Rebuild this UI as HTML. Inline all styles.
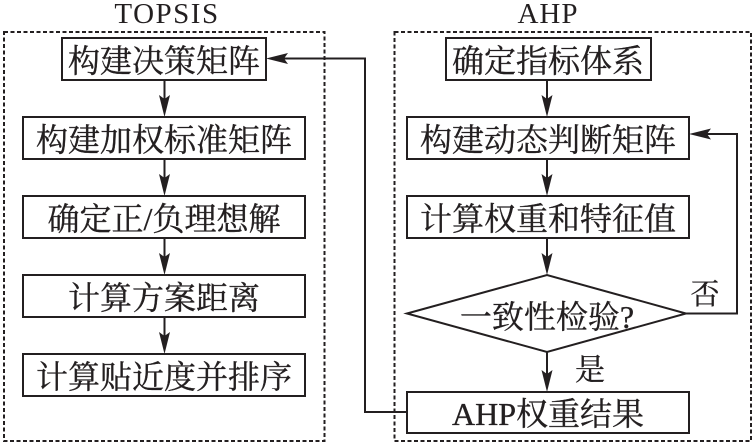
<!DOCTYPE html>
<html>
<head>
<meta charset="utf-8">
<style>
  html, body { margin:0; padding:0; background:#fff; }
  svg { display:block; }
  text { font-family: "Liberation Serif", "Noto Serif CJK SC", serif; fill:#231f20; }
  .lbl text { stroke:#231f20; stroke-width:0.35; }
</style>
</head>
<body>
<svg width="755" height="446" viewBox="0 0 755 446" xmlns="http://www.w3.org/2000/svg">
  <!-- titles -->
  <text x="167" y="23" font-size="29" text-anchor="middle" letter-spacing="1.5">TOPSIS</text>
  <text x="548" y="23" font-size="29" text-anchor="middle" letter-spacing="1">AHP</text>

  <!-- dashed containers -->
  <rect x="4" y="32" width="320.5" height="409" fill="none" stroke="#231f20" stroke-width="2" stroke-dasharray="4 2.5"/>
  <rect x="394.5" y="32" width="356.5" height="409" fill="none" stroke="#231f20" stroke-width="2" stroke-dasharray="4 2.5"/>

  <g fill="#fff" stroke="#231f20" stroke-width="2">
    <!-- TOPSIS boxes -->
    <rect x="62" y="38" width="204" height="42"/>
    <rect x="23" y="117" width="282" height="42"/>
    <rect x="23" y="196" width="282" height="42"/>
    <rect x="23" y="275" width="282" height="42"/>
    <rect x="23" y="354" width="282" height="42"/>
    <!-- AHP boxes -->
    <rect x="446" y="38" width="205" height="42"/>
    <rect x="407" y="117" width="282" height="42"/>
    <rect x="407" y="196" width="282" height="42"/>
    <polygon points="407,313.5 547,275 686,313.5 547,352"/>
    <rect x="407" y="392" width="282" height="41"/>
  </g>

  <!-- connector lines -->
  <g fill="none" stroke="#231f20" stroke-width="2">
    <line x1="164.5" y1="80" x2="164.5" y2="110"/>
    <line x1="164.5" y1="159" x2="164.5" y2="189"/>
    <line x1="164.5" y1="238" x2="164.5" y2="268"/>
    <line x1="164.5" y1="317" x2="164.5" y2="347"/>
    <line x1="547" y1="80" x2="547" y2="110"/>
    <line x1="547" y1="159" x2="547" y2="189"/>
    <line x1="547" y1="238" x2="547" y2="268"/>
    <line x1="547" y1="352" x2="547" y2="385"/>
    <!-- 否 loop -->
    <polyline points="686,313.5 737,313.5 737,134 696,134"/>
    <!-- result back to TOPSIS -->
    <polyline points="407,412 365,412 365,58.5 273,58.5"/>
  </g>

  <!-- arrowheads -->
  <g fill="#231f20">
    <path d="M164.5,117 L159,95 L164.5,99 L170,95 Z"/>
    <path d="M164.5,196 L159,174 L164.5,178 L170,174 Z"/>
    <path d="M164.5,275 L159,253 L164.5,257 L170,253 Z"/>
    <path d="M164.5,354 L159,332 L164.5,336 L170,332 Z"/>
    <path d="M547,117 L541.5,95 L547,99 L552.5,95 Z"/>
    <path d="M547,196 L541.5,174 L547,178 L552.5,174 Z"/>
    <path d="M547,275 L541.5,253 L547,257 L552.5,253 Z"/>
    <path d="M547,392 L541.5,370 L547,374 L552.5,370 Z"/>
    <!-- horizontal left-pointing -->
    <path d="M689,134 L711,128.5 L707,134 L711,139.5 Z"/>
    <path d="M266,58.5 L288,53 L284,58.5 L288,64 Z"/>
  </g>

  <!-- box labels -->
  <g class="lbl" font-size="32" text-anchor="middle">
    <text x="164" y="72">构建决策矩阵</text>
    <text x="164" y="151">构建加权标准矩阵</text>
    <text x="164" y="230">确定正/负理想解</text>
    <text x="164" y="309">计算方案距离</text>
    <text x="164" y="388">计算贴近度并排序</text>

    <text x="548" y="72">确定指标体系</text>
    <text x="548" y="151">构建动态判断矩阵</text>
    <text x="548" y="230">计算权重和特征值</text>
    <text x="547" y="328">一致性检验?</text>
    <text x="548" y="425">AHP权重结果</text>
  </g>

  <g class="lbl">
    <text x="705" y="304" font-size="29" text-anchor="middle">否</text>
    <text x="590" y="380" font-size="30" text-anchor="middle">是</text>
  </g>
</svg>
</body>
</html>
